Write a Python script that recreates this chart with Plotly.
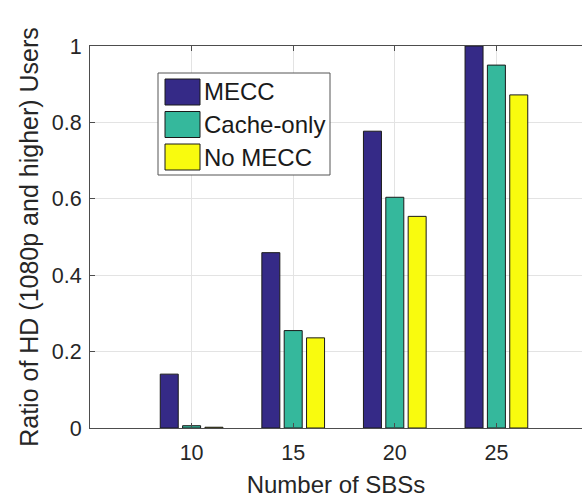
import plotly.graph_objects as go

# ---- data ----
sbs = [10, 15, 20, 25]
series_names = ["MECC", "Cache-only", "No MECC"]
mecc = [0.141, 0.459, 0.777, 1.0]
cache_only = [0.006, 0.255, 0.604, 0.950]
no_mecc = [0.002, 0.236, 0.554, 0.872]
series_values = [mecc, cache_only, no_mecc]
colors = ["#352a87", "#35b89c", "#f9fb0e"]
y_ticks = [0, 0.2, 0.4, 0.6, 0.8, 1]
y_tick_text = ["0", "0.2", "0.4", "0.6", "0.8", "1"]

W, H = 582, 498
ML, MR, MT, MB = 90, 0, 46, 70
PW, PH = W - ML - MR, H - MT - MB

fig = go.Figure()
for name, vals, col in zip(series_names, series_values, colors):
    fig.add_trace(go.Bar(
        x=sbs, y=vals, name=name,
        marker=dict(color=col, line=dict(color="#1a1a1a", width=1)),
        showlegend=False,
    ))

axis_col = "#4d4d4d"
font_col = "#262626"
fam = "Liberation Sans, Arial, sans-serif"

fig.update_layout(
    width=W, height=H,
    margin=dict(l=ML, r=MR, t=MT, b=MB),
    paper_bgcolor="white", plot_bgcolor="white",
    barmode="group", bargap=0.34, bargroupgap=0.195,
    font=dict(family=fam, color=font_col),
    xaxis=dict(
        range=[5, 5 + PW / 20.32],
        tickvals=sbs, ticktext=[str(v) for v in sbs],
        ticks="inside", ticklen=5, tickcolor=axis_col,
        ticklabelstandoff=5,
        showline=True, linecolor=axis_col, linewidth=1, mirror="ticks",
        showgrid=True, gridcolor="#e3e3e3", gridwidth=1,
        tickfont=dict(size=21.5, color=font_col),
        title=dict(text="Number of SBSs", font=dict(size=24, color=font_col), standoff=12),
        zeroline=False,
    ),
    yaxis=dict(
        range=[0, 1],
        tickvals=y_ticks, ticktext=y_tick_text,
        ticks="inside", ticklen=5, tickcolor=axis_col,
        ticklabelstandoff=3,
        showline=True, linecolor=axis_col, linewidth=1, mirror=False,
        showgrid=True, gridcolor="#e3e3e3", gridwidth=1,
        tickfont=dict(size=21.5, color=font_col),
        title=dict(text="Ratio of HD (1080p and higher) Users", font=dict(size=25, color=font_col), standoff=6),
        zeroline=False,
    ),
)

# ---- custom legend (MATLAB style) ----
def px_x(px):
    return (px - ML) / PW

def px_y(py):
    return (H - MB - py) / PH

box_l, box_r, box_t, box_b = 158, 330, 73, 175
fig.add_shape(type="rect", xref="paper", yref="paper",
              x0=px_x(box_l), x1=px_x(box_r), y0=px_y(box_b), y1=px_y(box_t),
              line=dict(color="#555555", width=1), fillcolor="white", layer="above")
row_centers = [92, 124.5, 157]
for name, col, cy in zip(series_names, colors, row_centers):
    fig.add_shape(type="rect", xref="paper", yref="paper",
                  x0=px_x(165), x1=px_x(200), y0=px_y(cy + 13), y1=px_y(cy - 13),
                  line=dict(color="#1a1a1a", width=1), fillcolor=col, layer="above")
    fig.add_annotation(xref="paper", yref="paper", x=px_x(202), y=px_y(cy),
                       text=name, showarrow=False, xanchor="left", yanchor="middle",
                       font=dict(size=24, color="#1a1a1a", family=fam))

fig.write_html("out.html")
